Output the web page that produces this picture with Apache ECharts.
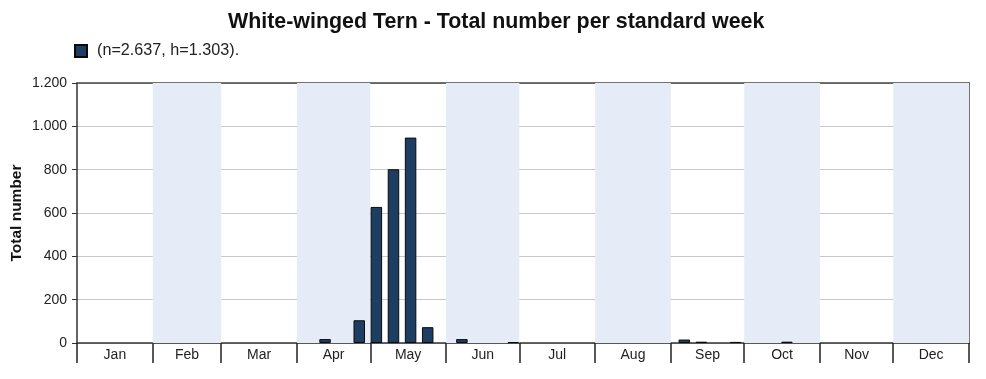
<!DOCTYPE html>
<html><head><meta charset="utf-8">
<script src="https://cdn.jsdelivr.net/npm/echarts@6/dist/echarts.min.js"></script>
<style>html,body{margin:0;padding:0;background:#fff}#c{width:986px;height:379px}</style>
</head><body><div id="c"></div>
<script>
var titleText = 'White-winged Tern - Total number per standard week';
var seriesName = '(n=2.637, h=1.303).';
var yAxisName = 'Total number';
var months = ['Jan','Feb','Mar','Apr','May','Jun','Jul','Aug','Sep','Oct','Nov','Dec'];
var monthDays = [31,28,31,30,31,30,31,31,30,31,30,31];
var yTicks = [0,200,400,600,800,1000,1200];
// week numbers (1..52) and total numbers
var weeks  = [15, 17, 18, 19, 20, 21, 23, 26, 36, 37, 39, 42];
var values = [18, 105, 628, 802, 948, 73, 18, 4, 16, 6, 5, 6];

var bounds = [0];
monthDays.forEach(function(d){ bounds.push(bounds[bounds.length-1] + d); });
var mids = months.map(function(m,i){ return (bounds[i] + bounds[i+1]) / 2; });
var bands = [];
for (var i = 1; i < 12; i += 2) bands.push([{xAxis: bounds[i]}, {xAxis: bounds[i+1]}]);
var barData = weeks.map(function(w,i){ return [(w - 0.5) * 7, values[i]]; });

function fmtNum(v){ return String(v).replace(/\B(?=(\d{3})+(?!\d))/g, '.'); }

var FONT = 'Liberation Sans, Arial, sans-serif';
var chart = echarts.init(document.getElementById('c'));
chart.setOption({
  animation: false,
  textStyle: {fontFamily: FONT},
  title: {text: titleText, left: 223, top: 7,
    textStyle: {fontSize: 21.4, fontWeight: 'bold', color: '#111', fontFamily: FONT}},
  legend: {left: 74, top: 43, padding: 0, icon: 'rect', itemWidth: 12, itemHeight: 12, itemGap: 8,
    textStyle: {fontSize: 16.2, color: '#222', padding: [0, 0, 0, 5]}, data: [seriesName]},
  grid: {left: 77, right: 17, top: 83, bottom: 36, containLabel: false, outerBoundsMode: 'none'},
  xAxis: [{
    type: 'value', min: 0, max: 365, position: 'bottom',
    axisLine: {show: true, onZero: false, lineStyle: {color: '#333', width: 1.5}},
    axisTick: {show: true, customValues: bounds, length: 20, lineStyle: {color: '#222', width: 1.5}},
    axisLabel: {show: true, customValues: mids, margin: 5, fontSize: 14, color: '#222',
      formatter: function(v){ var k = mids.indexOf(v); return k >= 0 ? months[k] : ''; }},
    splitLine: {show: false}
  },{
    type: 'value', min: 0, max: 365, position: 'top',
    axisLine: {show: true, onZero: false, lineStyle: {color: '#444', width: 1.5}},
    axisTick: {show: false}, axisLabel: {show: false}, splitLine: {show: false}
  }],
  yAxis: [{
    type: 'value', min: 0, max: 1200, interval: 200,
    name: yAxisName, nameLocation: 'middle', nameGap: 52, nameRotate: 90, nameMoveOverlap: false,
    nameTextStyle: {fontSize: 15.5, fontWeight: 'bold', color: '#111'},
    axisLine: {show: true, onZero: false, lineStyle: {color: '#333', width: 1.5}},
    axisTick: {show: true, length: 5, lineStyle: {color: '#333'}},
    axisLabel: {fontSize: 14, color: '#222', margin: 10, formatter: fmtNum},
    splitLine: {show: true, lineStyle: {color: '#c8c8c8', width: 1}}
  },{
    type: 'value', min: 0, max: 1200, interval: 200, position: 'right',
    axisLine: {show: true, onZero: false, lineStyle: {color: '#444', width: 1.5}},
    axisTick: {show: false}, axisLabel: {show: false}, splitLine: {show: false}
  }],
  series: [{
    type: 'line', data: [], z: -1, silent: true,
    markArea: {silent: true, itemStyle: {color: '#e6ecf7'}, data: bands}
  },{
    name: seriesName, type: 'bar', data: barData, barWidth: 11.5, z: 3,
    itemStyle: {color: '#1d3d63', borderColor: '#0a0a0a', borderWidth: 1}
  }]
});
</script></body></html>
